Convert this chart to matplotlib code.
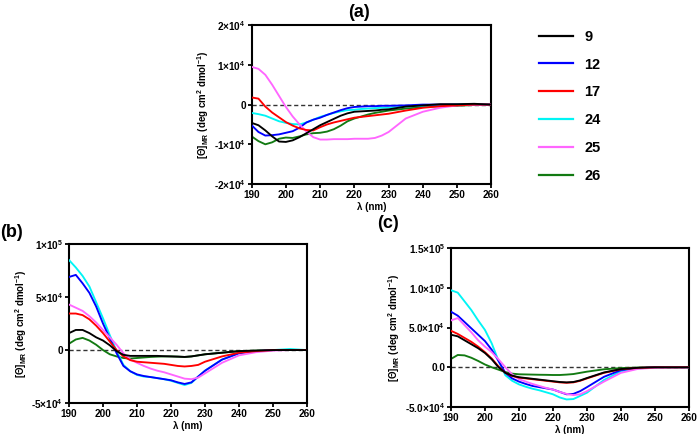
import matplotlib
matplotlib.use("Agg")
import matplotlib.pyplot as plt
from matplotlib.lines import Line2D

plt.rcParams["font.family"] = ["Liberation Sans", "DejaVu Sans"]
plt.rcParams["mathtext.fontset"] = "custom"
plt.rcParams["mathtext.rm"] = "Liberation Sans:bold"
plt.rcParams["mathtext.bf"] = "Liberation Sans:bold"
plt.rcParams["mathtext.it"] = "Liberation Sans:bold:italic"

# wavelength (nm), shared by all curves
wl = [190, 192, 194, 196, 198, 200, 202, 204, 206, 208, 210, 212, 214, 216, 218,
      220, 222, 224, 226, 228, 230, 235, 240, 245, 250, 255, 260]

names = ["9", "12", "17", "24", "25", "26"]
colors = ["#000000", "#0000ff", "#ff0000", "#00f5f5", "#ff66ff", "#127a12"]

# panel (a), units of 1e4
a_9 = [-0.46, -0.52, -0.65, -0.8, -0.93, -0.94, -0.9, -0.82, -0.72, -0.62, -0.52, -0.44, -0.36, -0.28,
       -0.22, -0.18, -0.17, -0.16, -0.15, -0.13, -0.12, -0.05, -0.02, 0.01, 0.01, 0.02, 0.0]
a_12 = [-0.52, -0.69, -0.78, -0.77, -0.75, -0.71, -0.67, -0.58, -0.45, -0.38, -0.33, -0.26, -0.2, -0.14,
        -0.09, -0.06, -0.05, -0.04, -0.04, -0.03, -0.03, -0.02, 0.0, 0.0, 0.0, 0.0, 0.0]
a_17 = [0.18, 0.15, -0.05, -0.2, -0.32, -0.44, -0.53, -0.6, -0.64, -0.65, -0.57, -0.5, -0.45, -0.41,
        -0.37, -0.33, -0.31, -0.29, -0.27, -0.25, -0.23, -0.15, -0.08, -0.04, -0.02, 0.0, 0.0]
a_24 = [-0.21, -0.24, -0.28, -0.35, -0.42, -0.46, -0.49, -0.5, -0.45, -0.38, -0.31, -0.26, -0.21, -0.17,
        -0.14, -0.13, -0.11, -0.1, -0.09, -0.08, -0.08, -0.05, -0.03, -0.01, 0.0, 0.0, 0.0]
a_25 = [0.95, 0.9, 0.75, 0.5, 0.22, -0.06, -0.3, -0.5, -0.68, -0.82, -0.88, -0.88, -0.87, -0.87,
        -0.87, -0.86, -0.86, -0.86, -0.84, -0.78, -0.69, -0.35, -0.18, -0.08, -0.02, 0.0, 0.0]
a_26 = [-0.8, -0.92, -1.0, -0.95, -0.86, -0.83, -0.84, -0.8, -0.75, -0.72, -0.71, -0.68, -0.62, -0.53,
        -0.42, -0.35, -0.3, -0.25, -0.21, -0.18, -0.15, -0.1, -0.06, -0.04, -0.03, -0.01, 0.0]

# panel (b), units of 1e4
b_9 = [1.6, 1.9, 1.9, 1.6, 1.2, 0.9, 0.45, -0.1, -0.45, -0.55, -0.55, -0.55, -0.55, -0.55,
       -0.58, -0.6, -0.62, -0.65, -0.6, -0.5, -0.4, -0.25, -0.1, -0.05, 0.0, 0.0, 0.0]
b_12 = [6.9, 7.1, 6.3, 5.4, 4.1, 2.5, 1.1, -0.3, -1.5, -2.0, -2.3, -2.45, -2.55, -2.65,
        -2.75, -2.85, -3.05, -3.2, -3.05, -2.5, -1.95, -0.9, -0.3, -0.1, 0.0, 0.0, 0.0]
b_17 = [3.45, 3.45, 3.3, 2.9, 2.3, 1.6, 0.8, 0.0, -0.6, -0.95, -1.1, -1.15, -1.2, -1.25,
        -1.3, -1.4, -1.5, -1.55, -1.5, -1.4, -1.1, -0.6, -0.25, -0.1, 0.0, 0.0, 0.0]
b_24 = [8.5, 7.8, 7.0, 6.0, 4.5, 3.0, 1.4, -0.1, -1.4, -2.0, -2.35, -2.5, -2.55, -2.65,
        -2.75, -2.9, -3.1, -3.3, -3.1, -2.5, -1.95, -0.9, -0.3, -0.1, 0.0, 0.1, 0.0]
b_25 = [4.3, 4.0, 3.7, 3.2, 2.6, 1.9, 1.2, 0.5, -0.3, -0.9, -1.2, -1.5, -1.75, -1.95,
        -2.1, -2.3, -2.5, -2.7, -2.75, -2.6, -2.2, -1.2, -0.5, -0.2, -0.05, 0.0, 0.0]
b_26 = [0.6, 1.0, 1.15, 0.9, 0.5, 0.0, -0.4, -0.6, -0.75, -0.8, -0.75, -0.7, -0.65, -0.62,
        -0.6, -0.6, -0.62, -0.65, -0.6, -0.5, -0.4, -0.25, -0.1, -0.05, 0.0, 0.0, 0.0]

# panel (c), units of 1e4
c_9 = [4.1, 3.9, 3.4, 2.9, 2.4, 1.8, 1.0, 0.0, -0.7, -1.05, -1.25, -1.35, -1.45, -1.55,
       -1.65, -1.75, -1.85, -1.9, -1.85, -1.65, -1.35, -0.65, -0.22, -0.06, 0.0, 0.0, 0.0]
c_12 = [7.0, 6.5, 5.7, 4.9, 4.1, 3.3, 2.2, 0.8, -0.7, -1.4, -1.8, -2.1, -2.35, -2.5,
        -2.65, -2.8, -3.1, -3.4, -3.35, -3.0, -2.5, -1.2, -0.35, -0.1, 0.0, 0.0, 0.0]
c_17 = [4.6, 4.2, 3.7, 3.2, 2.6, 1.9, 1.1, 0.1, -0.7, -1.1, -1.3, -1.4, -1.5, -1.6,
        -1.7, -1.8, -1.9, -1.95, -1.9, -1.7, -1.4, -0.7, -0.25, -0.08, 0.0, 0.0, 0.0]
c_24 = [9.7, 9.4, 8.3, 7.2, 5.9, 4.7, 3.0, 0.8, -1.0, -1.7, -2.15, -2.45, -2.7, -2.9,
        -3.15, -3.4, -3.8, -4.05, -4.0, -3.6, -3.2, -1.6, -0.5, -0.15, 0.0, 0.05, 0.0]
c_25 = [5.9, 6.2, 5.3, 4.4, 3.4, 2.6, 1.9, 1.0, 0.0, -0.9, -1.5, -1.8, -2.1, -2.35,
        -2.6, -2.8, -3.1, -3.35, -3.5, -3.4, -3.0, -1.8, -0.7, -0.2, -0.05, 0.0, 0.0]
c_26 = [1.05, 1.55, 1.5, 1.2, 0.8, 0.35, 0.0, -0.3, -0.6, -0.8, -0.88, -0.9, -0.92, -0.94,
        -0.95, -0.97, -0.97, -0.92, -0.85, -0.7, -0.55, -0.25, -0.1, -0.03, 0.0, 0.0, 0.0]

scale = 1e4

x_ticks = [190, 200, 210, 220, 230, 240, 250, 260]

a_yticks = [-2e4, -1e4, 0, 1e4, 2e4]
a_ylabels = [r"-2×10$^4$", r"-1×10$^4$", "0", r"1×10$^4$", r"2×10$^4$"]
b_yticks = [-5e4, 0, 5e4, 1e5]
b_ylabels = [r"-5×10$^4$", "0", r"5×10$^4$", r"1×10$^5$"]
c_yticks = [-5e4, 0, 5e4, 1e5, 1.5e5]
c_ylabels = [r"-5.0×10$^4$", "0.0", r"5.0×10$^4$", r"1.0×10$^5$", r"1.5×10$^5$"]

ylab = r"[$\Theta$]$_{\mathrm{MR}}$ (deg cm$^2$ dmol$^{-1}$)"

# draw order (bottom first), legend keeps names order
draw_order = [5, 3, 1, 4, 2, 0]


def panel(ax, series, yticks, ylabels):
    ax.axhline(0, color="#333333", ls=(0, (3, 2)), lw=1.0, zorder=1)
    for z, i in enumerate(draw_order):
        ax.plot(wl, [v * scale for v in series[i]], color=colors[i], lw=1.35, zorder=2 + z)
    ax.set_xlim(190, 260)
    ax.set_ylim(yticks[0], yticks[-1])
    ax.set_xticks(x_ticks)
    ax.set_xticklabels([str(t) for t in x_ticks])
    ax.set_yticks(yticks)
    ax.set_yticklabels(ylabels)
    for s in ax.spines.values():
        s.set_linewidth(1.5)
    ax.tick_params(direction="out", length=3, width=1.3, labelsize=7.2, pad=1.2)
    for lab in ax.get_xticklabels() + ax.get_yticklabels():
        lab.set_fontweight("bold")
    ax.set_xlabel(r"λ (nm)", fontsize=7, fontweight="bold", labelpad=1.5)
    ax.set_ylabel(ylab, fontsize=7, fontweight="bold", labelpad=2)


fig = plt.figure(figsize=(6.97, 4.34), dpi=100)

ax_a = fig.add_axes([0.361, 0.576, 0.344, 0.366])
ax_b = fig.add_axes([0.099, 0.0714, 0.3415, 0.366])
ax_c = fig.add_axes([0.647, 0.0622, 0.3415, 0.366])

panel(ax_a, [a_9, a_12, a_17, a_24, a_25, a_26], a_yticks, a_ylabels)
panel(ax_b, [b_9, b_12, b_17, b_24, b_25, b_26], b_yticks, b_ylabels)
panel(ax_c, [c_9, c_12, c_17, c_24, c_25, c_26], c_yticks, c_ylabels)

fig.text(0.515, 0.972, "(a)", fontsize=13, fontweight="bold", ha="center", va="center")
fig.text(0.016, 0.465, "(b)", fontsize=13, fontweight="bold", ha="center", va="center")
fig.text(0.556, 0.485, "(c)", fontsize=13, fontweight="bold", ha="center", va="center")

handles = [Line2D([], [], color=c, lw=1.6) for c in colors]
leg = fig.legend(handles, names, loc="upper left", bbox_to_anchor=(0.765, 0.945),
                 frameon=False, fontsize=10.5, handlelength=2.3, handletextpad=0.8,
                 labelspacing=0.95, borderaxespad=0)
for t in leg.get_texts():
    t.set_fontweight("bold")

fig.savefig("out.png", dpi=100)
